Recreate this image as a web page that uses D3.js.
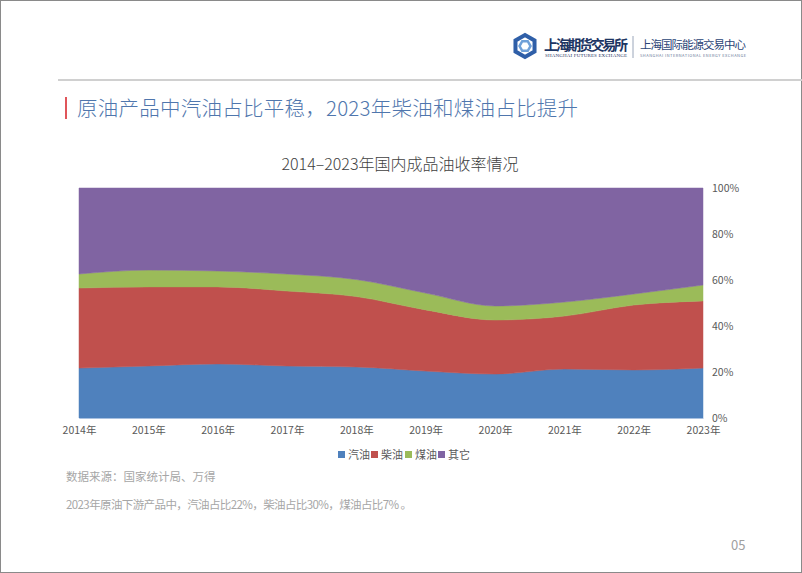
<!DOCTYPE html>
<html><head><meta charset="utf-8">
<script src="https://cdn.jsdelivr.net/npm/d3@7"></script>
<style>
html,body{margin:0;padding:0;background:#fff;}
svg{display:block;font-family:"Noto Sans CJK SC","Noto Sans",sans-serif;}
</style></head>
<body>
<svg id="c" width="802" height="573"></svg>
<script>
const years = ["2014年","2015年","2016年","2017年","2018年","2019年","2020年","2021年","2022年","2023年"];
const seriesNames = ["汽油","柴油","煤油","其它"];
const gasoline = [21.7, 22.6, 23.5, 22.6, 22.2, 20.4, 19.1, 21.3, 20.9, 21.7];
const diesel   = [34.8, 34.4, 33.5, 32.6, 30.6, 26.6, 23.5, 23.0, 28.2, 29.2];
const kerosene = [6.1, 7.3, 6.9, 7.4, 7.4, 7.3, 6.1, 6.1, 4.8, 6.9];
const others   = [37.4, 35.7, 36.1, 37.4, 39.8, 45.7, 51.3, 49.6, 46.1, 42.2];
const yTicks = [0, 20, 40, 60, 80, 100];
const colors = ["#4f81bd","#c0504d","#9bbb59","#8064a2"];

const svg = d3.select("#c");
// page border
svg.append("rect").attr("x",0.5).attr("y",0.5).attr("width",801).attr("height",572)
  .attr("fill","none").attr("stroke","#8a8a8a").attr("stroke-width",1);

// header line
svg.append("line").attr("x1",58).attr("x2",802).attr("y1",80).attr("y2",80)
  .attr("stroke","#d0d0d0").attr("stroke-width",2);

// logo
const lg = svg.append("g").attr("transform","translate(525,46)");
const hex = d3.range(6).map(i=>{const a=Math.PI/3*i+Math.PI/6;return [11*Math.cos(a),11*Math.sin(a)];});
lg.append("path").attr("d","M"+hex.join("L")+"Z").attr("fill","none").attr("stroke","#2f5fa8").attr("stroke-width",4);
const hex2 = d3.range(6).map(i=>{const a=Math.PI/3*i;return [5.5*Math.cos(a),5.5*Math.sin(a)];});
lg.append("path").attr("d","M"+hex2.join("L")+"Z").attr("fill","none").attr("stroke","#6fa0d8").attr("stroke-width",2.5);
svg.append("text").attr("x",544).attr("y",50).attr("font-size",14).attr("font-weight","bold")
  .attr("fill","#1d3563").attr("font-family","'Noto Sans CJK SC'").attr("textLength",84).text("上海期货交易所");
svg.append("text").attr("x",545).attr("y",57).attr("font-size",5).attr("fill","#1d3563")
  .attr("font-family","'Liberation Serif'").attr("textLength",82).text("SHANGHAI FUTURES EXCHANGE");
svg.append("line").attr("x1",633).attr("x2",633).attr("y1",36).attr("y2",58).attr("stroke","#8090a8").attr("stroke-width",0.8);
svg.append("text").attr("x",640).attr("y",49).attr("font-size",11.5).attr("fill","#2a4476").attr("textLength",106).text("上海国际能源交易中心");
svg.append("text").attr("x",640).attr("y",57).attr("font-size",4).attr("fill","#6a7a99").attr("textLength",106).text("SHANGHAI INTERNATIONAL ENERGY EXCHANGE");

// page title
svg.append("rect").attr("x",65).attr("y",97).attr("width",2).attr("height",22).attr("fill","#e0555a");
svg.append("text").attr("x",77).attr("y",116).attr("font-size",20.5).attr("font-weight",300).attr("fill","#4f76ad")
  .attr("textLength",501).text("原油产品中汽油占比平稳，2023年柴油和煤油占比提升");

// chart title
svg.append("text").attr("x",400).attr("y",170).attr("text-anchor","middle").attr("font-size",16)
  .attr("font-weight",300).attr("fill","#404040").text("2014–2023年国内成品油收率情况");

// scales
const x = d3.scalePoint().domain(years).range([79,703]);
const y = d3.scaleLinear().domain([0,100]).range([418,188]);

const table = years.map((yr,i)=>({year:yr, "汽油":gasoline[i], "柴油":diesel[i], "煤油":kerosene[i], "其它":others[i]}));
const stack = d3.stack().keys(seriesNames).offset(d3.stackOffsetExpand);
const layers = stack(table);
const area = d3.area().x(d=>x(d.data.year)).y0(d=>y(d[0]*100)).y1(d=>y(d[1]*100)).curve(d3.curveMonotoneX);
svg.append("g").selectAll("path").data(layers).join("path")
  .attr("d",area).attr("fill",(d,i)=>colors[i]).attr("stroke",(d,i)=>colors[i]).attr("stroke-width",0.5);

// y axis (right)
const yAxis = d3.axisRight(y).tickValues(yTicks).tickFormat(d=>d+"%").tickSize(0).tickPadding(9);
const ya = svg.append("g").attr("transform","translate(703,0)").call(yAxis);
ya.select(".domain").remove();
ya.selectAll("text").attr("font-size",10.5).attr("fill","#595959").attr("font-family","'Noto Sans CJK SC'");

// x axis
const xAxis = d3.axisBottom(x).tickSize(0).tickPadding(9);
const xa = svg.append("g").attr("transform","translate(0,418)").call(xAxis);
xa.select(".domain").attr("stroke","#a8c0e0").attr("stroke-width",1);
xa.selectAll("text").attr("font-size",10.5).attr("fill","#595959").attr("font-family","'Noto Sans CJK SC'");

// legend
const legX = [338, 371, 405, 438];
const lgd = svg.append("g");
seriesNames.forEach((n,i)=>{
  lgd.append("rect").attr("x",legX[i]).attr("y",451).attr("width",7).attr("height",7).attr("fill",colors[i]);
  lgd.append("text").attr("x",legX[i]+10).attr("y",459).attr("font-size",11).attr("fill","#595959").text(n);
});

// notes
svg.append("text").attr("x",66).attr("y",481).attr("font-size",11.5).attr("fill","#a6a6a6").text("数据来源：国家统计局、万得");
svg.append("text").attr("x",66).attr("y",509).attr("font-size",11.5).attr("fill","#a6a6a6")
  .attr("textLength",346).text("2023年原油下游产品中，汽油占比22%，柴油占比30%，煤油占比7% 。");
svg.append("text").attr("x",731).attr("y",550).attr("font-size",13).attr("fill","#a0a0a0").text("05");
</script>
</body></html>
